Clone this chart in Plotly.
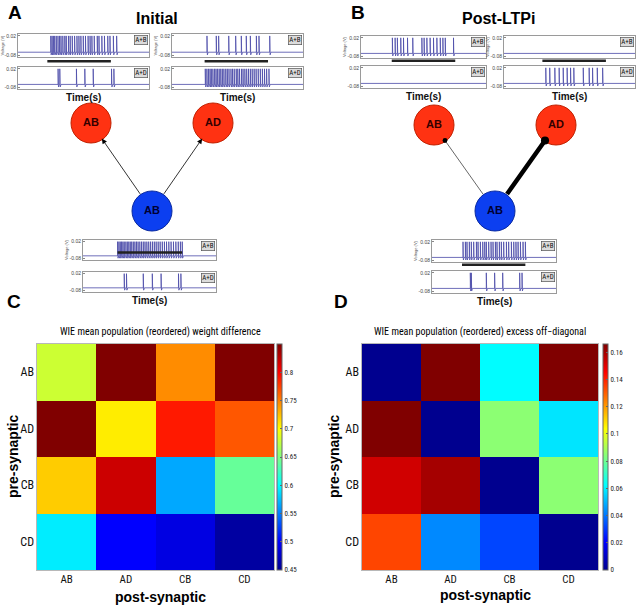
import plotly.graph_objects as go

W, H = 639, 607

# ---------------- data ----------------
cats = ["AB", "AD", "CB", "CD"]
weight_diff = [
    [0.680, 0.850, 0.745, 0.850],
    [0.850, 0.707, 0.790, 0.766],
    [0.720, 0.820, 0.566, 0.640],
    [0.593, 0.500, 0.487, 0.458],
]
excess_offdiag = [
    [0.000, 0.166, 0.062, 0.166],
    [0.166, 0.000, 0.085, 0.058],
    [0.153, 0.160, 0.000, 0.085],
    [0.134, 0.043, 0.032, 0.000],
]
cb_ticks_c = [0.45, 0.5, 0.55, 0.6, 0.65, 0.7, 0.75, 0.8]
cb_ticks_d = [0, 0.02, 0.04, 0.06, 0.08, 0.1, 0.12, 0.14, 0.16]

# spike times (s) for each voltage trace, stimulus A+B / A+D
A_AB_ab = [2.5, 2.6, 2.7, 2.8, 2.92, 3.05, 3.17, 3.28, 3.42, 3.57, 3.68, 3.85, 3.98, 4.14, 4.32, 4.5,
           4.65, 4.8, 4.98, 5.15, 5.35, 5.5, 5.64, 5.82, 6.05, 6.18, 6.4, 6.6, 6.85, 7.02, 7.28, 7.53]
A_AB_ad = [3.06, 3.19, 4.46, 5.1, 5.74, 7.14, 7.32]
A_AD_ab = [2.67, 3.38, 3.56, 4.33, 4.86, 5.29, 5.67, 5.98, 6.44, 6.64, 7.46]
A_AD_ad = [2.54, 2.66, 2.78, 2.9, 3.0, 3.12, 3.25, 3.36, 3.48, 3.6, 3.72, 3.84, 3.96, 4.1, 4.22, 4.35,
           4.5, 4.62, 4.75, 4.9, 5.02, 5.15, 5.3, 5.42, 5.56, 5.7, 5.84, 5.98, 6.12, 6.27, 6.42, 6.58,
           6.74, 6.9, 7.06, 7.22, 7.4]
A_pre_ab = [2.6, 2.7, 2.8, 2.9, 3.0, 3.1, 3.22, 3.33, 3.44, 3.55, 3.66, 3.78, 3.9, 4.02, 4.14, 4.27,
            4.4, 4.53, 4.66, 4.8, 4.94, 5.08, 5.22, 5.36, 5.5, 5.65, 5.8, 5.96, 6.12, 6.28, 6.45, 6.62,
            6.8, 6.98, 7.16, 7.32, 7.46]
A_pre_ad = [3.1, 3.27, 4.53, 5.21, 5.87, 7.18, 7.36]
B_AB_ab = [2.51, 2.73, 2.91, 3.18, 3.4, 3.72, 4.14, 4.87, 5.05, 5.27, 5.53, 5.8, 6.07, 6.34, 6.55,
           6.74, 7.4]
B_AB_ad = []
B_AD_ab = []
B_AD_ad = [3.19, 3.49, 3.88, 4.21, 4.52, 4.82, 5.08, 5.33, 6.05, 6.5, 6.76, 7.12, 7.53]
B_pre_ab = [2.5, 2.69, 2.82, 3.01, 3.17, 3.36, 3.58, 3.71, 3.9, 4.09, 4.25, 4.38, 4.57, 4.76, 4.92,
            5.11, 5.24, 5.43, 5.59, 5.78, 6.0, 6.18, 6.4, 6.59, 6.77, 6.94, 7.13, 7.34, 7.53]
B_pre_ad = [3.09, 3.17, 4.38, 5.05, 5.7, 7.07, 7.26]

# stimulus windows (s)
stim_A_AB = [2.24, 7.09]
stim_A_AD = [2.49, 7.33]
stim_A_pre = [2.6, 7.46]
stim_B_AB = [2.46, 7.54]
stim_B_AD = [2.93, 7.78]
stim_B_pre = [2.42, 7.53]

# network: node labels and synaptic weights (pre AB -> post AB, pre AB -> post AD)
node_labels = ["AB", "AB", "AD"]
node_lx = [0, -1, 1]
node_ly = [0, 1, 1]
weights_initial = [0.8, 0.8]
weights_post = [0.6, 4.5]

# ---------------- helpers ----------------
def px_x(a, b):
    return [a / W, b / W]


def px_y(top, bottom):
    return [1 - bottom / H, 1 - top / H]


def ax_id(letter, n):
    return letter if n == 1 else f"{letter}{n}"


def ax_key(letter, n):
    return f"{letter}axis" if n == 1 else f"{letter}axis{n}"


def spike_line(times, base=-0.065, peak=0.02, trough=-0.079, t_end=10.0):
    xs, ys = [0.0], [base]
    for t in times:
        xs += [t, t, t + 0.03, t + 0.09]
        ys += [base, peak, trough, base]
    xs.append(t_end)
    ys.append(base)
    return xs, ys


BASE_FONT = "Liberation Sans, Arial, sans-serif"
NARROW = "Liberation Sans Narrow, Arial Narrow, Roboto Condensed, DejaVu Sans Condensed, sans-serif"

fig = go.Figure()
layout = dict(width=W, height=H, margin=dict(l=0, r=0, t=0, b=0, autoexpand=False),
              paper_bgcolor="white", plot_bgcolor="rgba(0,0,0,0)",
              showlegend=False, font=dict(family=BASE_FONT, color="black"))
annotations = []
shapes = []

# trace boxes: (x px range, A+B y range, A+D y range, spikes ab, spikes ad, stim, bar y in domain of A+B)
boxes = [
    ((18, 149), (34, 57), (67, 89), A_AB_ab, A_AB_ad, stim_A_AB, -0.18),
    ((172, 303), (34, 57), (67, 89), A_AD_ab, A_AD_ad, stim_A_AD, -0.18),
    ((83, 216), (240, 260), (272, 292), A_pre_ab, A_pre_ad, stim_A_pre, 0.38),
    ((361, 486), (36, 58), (66, 88), B_AB_ab, B_AB_ad, stim_B_AB, -0.12),
    ((504, 635), (36, 58), (66, 88), B_AD_ab, B_AD_ad, stim_B_AD, -0.12),
    ((432, 556), (240, 262), (271, 293), B_pre_ab, B_pre_ad, stim_B_pre, -0.12),
]

n = 0
for (bx, yab, yad, sab, sad, stim, bary) in boxes:
    for k, (yy, spikes, lab) in enumerate([(yab, sab, "A+B"), (yad, sad, "A+D")]):
        n += 1
        xa, ya = ax_id("x", n), ax_id("y", n)
        xs, ys = spike_line(spikes)
        fig.add_trace(go.Scatter(x=xs, y=ys, mode="lines", xaxis=xa, yaxis=ya,
                                 line=dict(color="#4a4aa8", width=0.8), hoverinfo="skip"))
        layout[ax_key("x", n)] = dict(domain=px_x(*bx), range=[0, 10], anchor=ya,
                                      showticklabels=False, showgrid=False, zeroline=False,
                                      showline=True, mirror=True, linecolor="#9a9a9a",
                                      linewidth=1, ticks="")
        ydict = dict(domain=px_y(*yy), range=[-0.09, 0.03], anchor=xa,
                     tickvals=[0.02, -0.08], ticktext=["0.02", "-0.08"],
                     tickfont=dict(size=5, color="#444"), ticks="inside", ticklen=2,
                     tickcolor="#888", showgrid=False, zeroline=False, showline=True,
                     mirror=True, linecolor="#9a9a9a", linewidth=1)
        if k == 0:
            ydict["title"] = dict(text="Voltage (V)", font=dict(size=4, color="#555"), standoff=1)
        layout[ax_key("y", n)] = ydict
        annotations.append(dict(text=lab, xref=f"{xa} domain", yref=f"{ya} domain",
                                x=0.995, y=0.95, xanchor="right", yanchor="top", showarrow=False,
                                font=dict(size=7, color="#111", family=NARROW),
                                bgcolor="#dcdcdc", bordercolor="#555", borderwidth=0.7,
                                borderpad=0.5))
        if k == 0:
            shapes.append(dict(type="line", xref=xa, yref=f"{ya} domain",
                               x0=stim[0], x1=stim[1], y0=bary, y1=bary,
                               line=dict(color="#222", width=2.5)))
        else:
            annotations.append(dict(text="<b>Time(s)</b>", xref=f"{xa} domain",
                                    yref=f"{ya} domain", x=0.5, y=-0.05, xanchor="center",
                                    yanchor="top", showarrow=False,
                                    font=dict(size=10, color="#111")))

# network axes
net_specs = [
    (px_x(30, 274), px_y(35, 299), weights_initial, "arrow"),
    (px_x(373, 617), px_y(39, 297), weights_post, "dot"),
]
node_colors = ["#0c3ff0", "#ff3212", "#ff3212"]
node_line = ["#0a2aa0", "#c02000", "#c02000"]
text_colors = ["#000033", "#330000", "#330000"]
for (dxx, dyy, weights, style) in net_specs:
    n += 1
    xa, ya = ax_id("x", n), ax_id("y", n)
    layout[ax_key("x", n)] = dict(domain=dxx, range=[-2, 2], anchor=ya, visible=False)
    layout[ax_key("y", n)] = dict(domain=dyy, range=[-1, 2], anchor=xa, visible=False)
    for j, w in enumerate(weights):
        tgt = j + 1
        a = dict(xref=xa, yref=ya, axref=xa, ayref=ya,
                 x=node_lx[tgt], y=node_ly[tgt], ax=node_lx[0], ay=node_ly[0],
                 text="", showarrow=True, arrowcolor="black", arrowwidth=w,
                 standoff=19, startstandoff=19)
        if style == "arrow":
            a.update(arrowhead=2, arrowsize=1.3)
        else:
            a.update(arrowhead=6, arrowsize=0.45 if w > 2 else 2.0)
        annotations.append(a)
    fig.add_trace(go.Scatter(x=node_lx, y=node_ly, mode="markers+text", text=node_labels,
                             xaxis=xa, yaxis=ya,
                             marker=dict(size=40, color=node_colors,
                                         line=dict(color=node_line, width=1)),
                             textposition="middle center",
                             textfont=dict(size=11, color=text_colors,
                                           family="Liberation Sans, Arial"),
                             texttemplate="<b>%{text}</b>", hoverinfo="skip"))

# heatmaps
jet = [[0, "#00008F"], [0.125, "#0000FF"], [0.375, "#00FFFF"], [0.625, "#FFFF00"],
       [0.875, "#FF0000"], [1, "#800000"]]
heat_specs = [
    (weight_diff, px_x(37, 274), 277, [0.45, 0.85], cb_ticks_c,
     ["0.45", "0.5", "0.55", "0.6", "0.65", "0.7", "0.75", "0.8"]),
    (excess_offdiag, px_x(362, 598), 603, [0, 0.166], cb_ticks_d,
     ["0", "0.02", "0.04", "0.06", "0.08", "0.1", "0.12", "0.14", "0.16"]),
]
for (z, dxx, cbx, zr, tv, tt) in heat_specs:
    n += 1
    xa, ya = ax_id("x", n), ax_id("y", n)
    fig.add_trace(go.Heatmap(z=z, x=cats, y=cats, xaxis=xa, yaxis=ya,
                             colorscale=jet, zmin=zr[0], zmax=zr[1], hoverinfo="skip",
                             colorbar=dict(x=cbx / W, xref="paper", xanchor="left",
                                           y=1 - 457 / H, yref="paper", yanchor="middle",
                                           len=226 / H, lenmode="fraction", thickness=5,
                                           outlinewidth=1, outlinecolor="#666",
                                           tickvals=tv, ticktext=tt, ticks="inside",
                                           ticklen=2, tickcolor="#666",
                                           tickfont=dict(size=7, family=NARROW, color="#222"),
                                           xpad=0, ypad=0)))
    layout[ax_key("x", n)] = dict(domain=dxx, anchor=ya, showgrid=False, zeroline=False,
                                  ticks="", tickfont=dict(size=11, family=NARROW, color="#111"),
                                  ticklabelstandoff=-1,
                                  showline=True, mirror=True, linecolor="#888", linewidth=0.6)
    layout[ax_key("y", n)] = dict(domain=px_y(344, 570), anchor=xa, autorange="reversed",
                                  showgrid=False, zeroline=False, ticks="",
                                  tickfont=dict(size=12, family=NARROW, color="#111"),
                                  showline=True, mirror=True, linecolor="#888", linewidth=0.6)

# texts
def txt(s, x, y, size, bold=True, family=BASE_FONT, angle=0):
    annotations.append(dict(text=f"<b>{s}</b>" if bold else s, xref="paper", yref="paper",
                            x=x / W, y=1 - y / H, xanchor="center", yanchor="middle",
                            showarrow=False, textangle=angle,
                            font=dict(size=size, family=family, color="black")))

txt("A", 15, 13, 19)
txt("B", 358, 13, 19)
txt("C", 14, 302, 19)
txt("D", 341, 302, 19)
txt("Initial", 157, 18, 16)
txt("Post-LTPi", 498, 18, 16)
txt("WIE mean population (reordered) weight difference", 160, 332, 10, bold=False, family=NARROW)
txt("WIE mean population (reordered) excess off\u2212diagonal", 480, 332, 10, bold=False,
    family=NARROW)
txt("pre-synaptic", 13, 457, 14, angle=-90)
txt("pre-synaptic", 334, 457, 14, angle=-90)
txt("post-synaptic", 160, 597, 14)
txt("post-synaptic", 485, 595, 14)

layout["annotations"] = annotations
layout["shapes"] = shapes
fig.update_layout(**layout)
fig.write_html("out.html", config={"displayModeBar": False, "staticPlot": True},
               post_script="document.body.style.margin='0';document.body.style.overflow='hidden';")
